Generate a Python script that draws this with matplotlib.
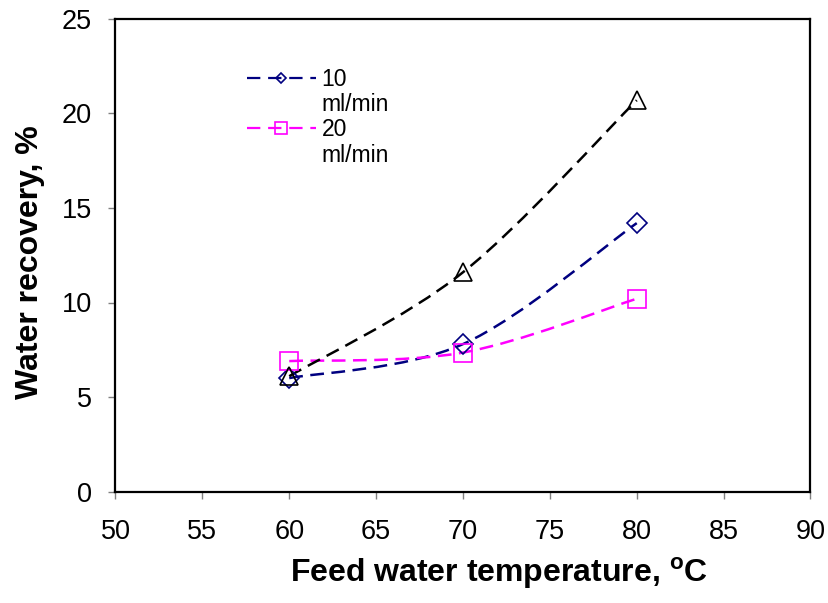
import numpy as np
import matplotlib
matplotlib.use('Agg')
import matplotlib.pyplot as plt
from matplotlib.path import Path
from matplotlib.patches import PathPatch
from matplotlib.lines import Line2D

plt.rcParams['font.family'] = ['Liberation Sans', 'DejaVu Sans']

# feed water temperature, C
temp = [60, 70, 80]
# water recovery, %
rec_10 = [6.0, 7.8, 14.2]
rec_20 = [6.9, 7.35, 10.2]
rec_30 = [6.1, 11.6, 20.7]   # third series, not in legend

labels = ['10\nml/min', '20\nml/min']


def smooth_path(x, y):
    # excel-style smoothed line as cubic bezier segments
    x = np.asarray(x, float)
    y = np.asarray(y, float)
    px = np.concatenate([[x[0]], x, [x[-1]]])
    py = np.concatenate([[y[0]], y, [y[-1]]])
    verts = [(x[0], y[0])]
    codes = [Path.MOVETO]
    for i in range(1, len(x)):
        c1 = (px[i] + (px[i + 1] - px[i - 1]) / 6, py[i] + (py[i + 1] - py[i - 1]) / 6)
        c2 = (px[i + 1] - (px[i + 2] - px[i]) / 6, py[i + 1] - (py[i + 2] - py[i]) / 6)
        verts += [c1, c2, (px[i + 1], py[i + 1])]
        codes += [Path.CURVE4] * 3
    return Path(verts, codes)


fig = plt.figure(figsize=(8.29, 6.03), dpi=100)
ax = fig.add_axes([115.5 / 829, 1 - 491.5 / 603, 695 / 829, 472.5 / 603])

series = [
    (rec_10, '#000080', 'D', 10.5),
    (rec_20, '#FF00FF', 's', 13),
    (rec_30, 'black', '^', 13),
]
for ys, col, mk, ms in series:
    patch = PathPatch(smooth_path(temp, ys), facecolor='none', edgecolor=col,
                      lw=1.8, linestyle=(0, (5.5, 3)), zorder=2)
    ax.add_patch(patch)
    ax.plot(temp, ys, linestyle='none', marker=mk, ms=ms, mfc='none',
            mec=col, mew=1.2, zorder=3)

ax.set_xlim(50, 90)
ax.set_ylim(0, 25)
ax.set_xticks(np.arange(50, 91, 5))
ax.set_yticks(np.arange(0, 26, 5))
ax.tick_params(direction='out', length=5, width=1, color='#808080',
               labelsize=19.5)
ax.tick_params(axis='y', pad=12)
ax.tick_params(axis='x', pad=14.5)
for sp in ax.spines.values():
    sp.set_linewidth(1.6)
    sp.set_color('black')

ax.set_xlabel(r'Feed water temperature, $^{\mathregular{o}}$C',
              fontsize=23, fontweight='bold', labelpad=8)
ax.set_ylabel('Water recovery, %', fontsize=23, fontweight='bold', labelpad=12)
ax.xaxis.label.set_x(0.552)
ax.yaxis.label.set_y(0.486)

# legend: handle next to first line of each label
blank = Line2D([], [], linestyle='none')
h10 = Line2D([], [], color='#000080', lw=1.6, linestyle=(0, (6, 3.5)),
             marker='D', ms=5, mfc='none', mec='#000080', mew=1.2)
h20 = Line2D([], [], color='#FF00FF', lw=1.6, linestyle=(0, (6, 3.5)),
             marker='s', ms=8.5, mfc='none', mec='#FF00FF', mew=1.2)
l1, l2 = labels[0].split('\n'), labels[1].split('\n')
ax.legend([h10, blank, h20, blank], [l1[0], l1[1], l2[0], l2[1]],
          loc='upper left', bbox_to_anchor=(0.189, 0.897), frameon=False,
          fontsize=16.5, handlelength=3.0, handletextpad=0.26,
          labelspacing=0.1, borderaxespad=0, borderpad=0)

fig.savefig('out.png', dpi=100)
